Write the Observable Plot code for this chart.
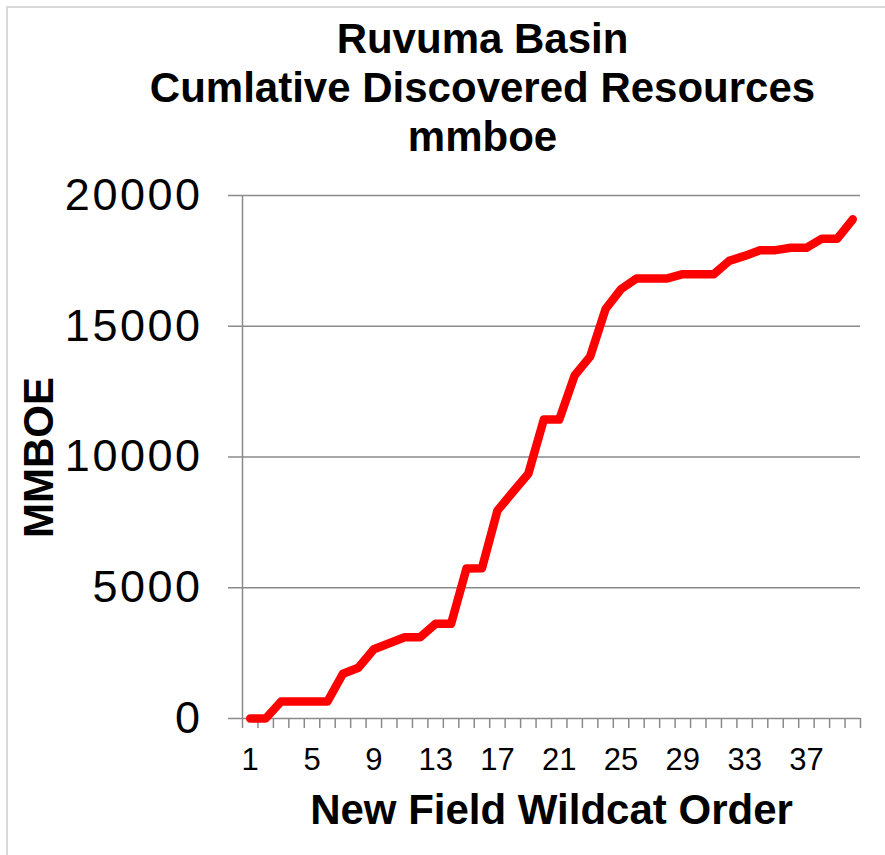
<!DOCTYPE html>
<html>
<head>
<meta charset="utf-8">
<script src="https://cdn.jsdelivr.net/npm/d3@7"></script>
<script src="https://cdn.jsdelivr.net/npm/@observablehq/plot@0.6"></script>
<style>
  html, body { margin: 0; padding: 0; background: #fff; overflow: hidden; }
  #wrap { position: relative; width: 885px; height: 855px; overflow: hidden; }
  #frame { position: absolute; left: 6px; top: 6px; width: 2000px; height: 2000px;
           border: 2px solid #d9d9d9; pointer-events: none; }
  svg { display: block; }
</style>
</head>
<body>
<div id="wrap"><div id="frame"></div></div>
<script>
// Data
const wildcatOrder = d3.range(1, 41);
const cumulativeMMBOE = [
  0, 0, 650, 650, 650, 650, 1710, 1940, 2650, 2880,
  3110, 3110, 3620, 3620, 5740, 5750, 7950, 8660, 9360, 11430,
  11430, 13120, 13840, 15660, 16420, 16830, 16830, 16830, 16990, 16990,
  16990, 17500, 17690, 17910, 17910, 18000, 18000, 18350, 18350, 19090
];
const yTicks = [0, 5000, 10000, 15000, 20000];
const xTickLabels = [1, 5, 9, 13, 17, 21, 25, 29, 33, 37];
const titleLines = ["Ruvuma Basin", "Cumlative Discovered Resources", "mmboe"];
const xTitle = "New Field Wildcat Order";
const yTitle = "MMBOE";

const data = wildcatOrder.map((n, i) => ({n, v: cumulativeMMBOE[i]}));
const boundaries = wildcatOrder.map(n => n - 0.5).concat([wildcatOrder[wildcatOrder.length - 1] + 0.5]);

const W = 885, H = 855;
const mL = 242, mR = 25, mT = 195, mB = 137;
const grey = "#8a8a8a";
const titleBaselines = [52, 101, 150];
const titleCenterX = 482;

const chart = Plot.plot({
  width: W, height: H,
  marginLeft: mL, marginRight: mR, marginTop: mT, marginBottom: mB,
  x: {domain: [boundaries[0], boundaries[boundaries.length - 1]]},
  y: {domain: [yTicks[0], yTicks[yTicks.length - 1]]},
  style: {fontFamily: "'Liberation Sans', Arial, sans-serif", background: "transparent", color: "black"},
  marks: [
    Plot.ruleY(yTicks, {stroke: grey, strokeWidth: 1.5}),
    Plot.ruleX([boundaries[0]], {y1: yTicks[0], y2: yTicks[yTicks.length - 1], stroke: grey, strokeWidth: 1.5}),
    Plot.axisY(yTicks, {tickSize: 14, tickFormat: () => "", stroke: grey, strokeWidth: 1.5, label: null}),
    Plot.text(yTicks, {y: d => d, text: d => String(d), frameAnchor: "left", dx: -40, textAnchor: "end",
      lineAnchor: "middle", fontSize: 45, fill: "black"}),
    Plot.axisX(boundaries, {tickSize: 10, tickFormat: () => "", stroke: grey, strokeWidth: 1.5, label: null}),
    Plot.text(xTickLabels, {x: d => d, text: d => String(d), frameAnchor: "bottom", dy: 29, textAnchor: "middle",
      lineAnchor: "top", fontSize: 31, fill: "black"}),
    Plot.line(data, {x: "n", y: "v", stroke: "#ff0000", strokeWidth: 8.5, strokeLinejoin: "round", strokeLinecap: "round"}),
    ...titleLines.map((t, i) => Plot.text([t], {
      frameAnchor: "top-left", dx: titleCenterX - mL, dy: titleBaselines[i] - mT,
      textAnchor: "middle", lineAnchor: "bottom", fontSize: 42, fontWeight: "bold", fill: "black"
    })),
    Plot.text([xTitle], {frameAnchor: "bottom", dy: 823 - (H - mB), lineAnchor: "bottom",
      textAnchor: "middle", fontSize: 42, fontWeight: "bold", fill: "black"}),
    Plot.text([yTitle], {frameAnchor: "top-left", dx: 52 - mL, dy: 457 - mT, rotate: -90,
      lineAnchor: "bottom", textAnchor: "middle", fontSize: 42, fontWeight: "bold", fill: "black"})
  ]
});
// widen the y tick labels slightly, as in the reference
const yTickStrings = yTicks.map(String);
d3.select(chart).selectAll("text")
  .filter(function() { return yTickStrings.includes(this.textContent); })
  .attr("letter-spacing", "2.5px")
  .style("letter-spacing", "2.5px");
chart.style.position = "absolute";
chart.style.left = "0px";
chart.style.top = "0px";
document.getElementById("wrap").appendChild(chart);
</script>
</body>
</html>
